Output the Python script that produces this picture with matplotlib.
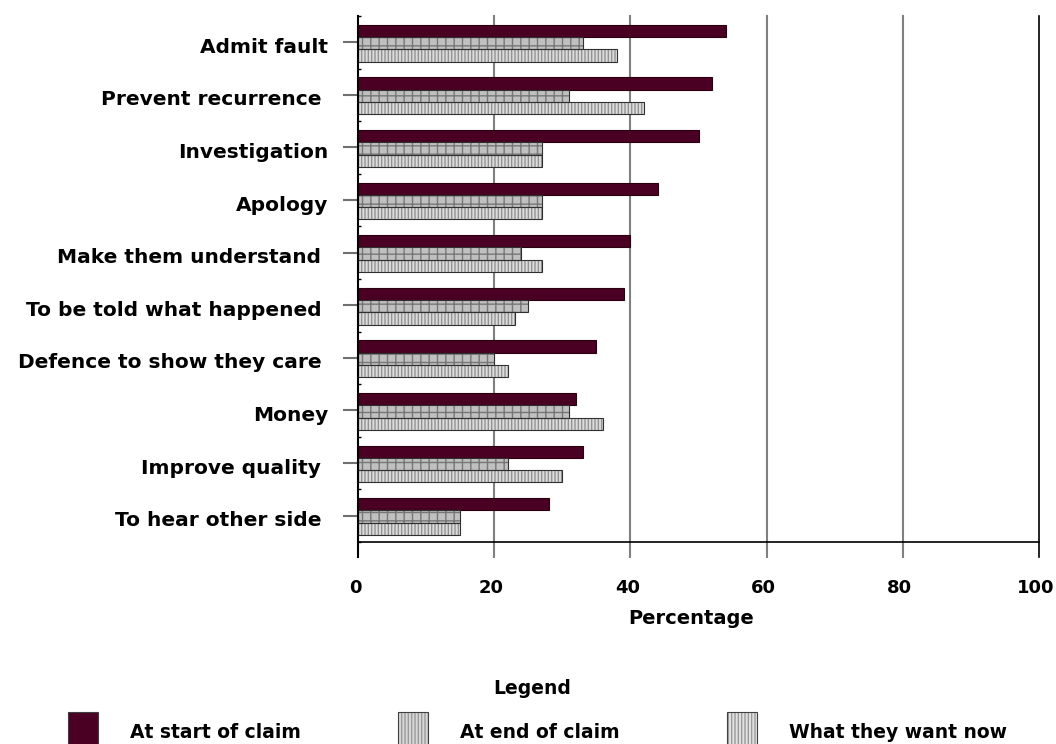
import matplotlib
matplotlib.use("Agg")
import matplotlib.pyplot as plt
import matplotlib.transforms as mtrans
import numpy as np
from matplotlib.patches import Rectangle

categories = ["Admit fault", "Prevent recurrence ", "Investigation", "Apology",
              "Make them understand ", "To be told what happened ",
              "Defence to show they care ", "Money", "Improve quality ",
              "To hear other side "]
start_claim = [54, 52, 50, 44, 40, 39, 35, 32, 33, 28]
end_claim = [33, 31, 27, 27, 24, 25, 20, 31, 22, 15]
want_now = [38, 42, 27, 27, 27, 23, 22, 36, 30, 15]
series_names = ["At start of claim", "At end of claim", "What they want now"]
x_ticks = [0, 20, 40, 60, 80, 100]

plt.rcParams['font.family'] = ['DejaVu Sans']
plt.rcParams['font.weight'] = 'bold'
FS = 13.5

W, H = 1056, 744
fig = plt.figure(figsize=(W / 100, H / 100), dpi=100)
ax = fig.add_axes([358 / W, 1 - 542 / H, (1039 - 358) / W, (542 - 16) / H])

dark = '#4a0022'
y = np.arange(len(categories))
h = 0.234
off = 0.017

plt.rcParams['hatch.linewidth'] = 1.0
# start of claim
ax.barh(y - h + off, start_claim, height=h, color=dark, edgecolor='#2a0010', linewidth=0.8, zorder=3)
# end of claim
ax.barh(y + off, end_claim, height=h, color='#c0c0c0', edgecolor='#777777', hatch='||--', linewidth=0, zorder=3)
ax.barh(y + off, end_claim, height=h, fill=False, edgecolor='#303030', linewidth=0.8, zorder=4)
# want now
ax.barh(y + h + off, want_now, height=h, color='#dcdcdc', edgecolor='#939393', hatch='|||||', linewidth=0, zorder=3)
ax.barh(y + h + off, want_now, height=h, fill=False, edgecolor='#303030', linewidth=0.8, zorder=4)

ax.set_xlim(0, 100)
ax.set_ylim(len(categories) - 0.5, -0.5)

# gridlines extending below the axis as ticks
for xv in x_ticks[1:-1]:
    ax.axvline(xv, ymin=-15 / 526, ymax=1, color='#808080', lw=1.5, clip_on=False, zorder=1)
ax.axvline(100, ymin=-15 / 526, ymax=1, color='#000000', lw=1.2, clip_on=False, zorder=1)
ax.axvline(0, ymin=-15 / 526, ymax=1, color='#000000', lw=1.5, clip_on=False, zorder=5)

for s in ['top', 'right', 'left']:
    ax.spines[s].set_visible(False)
ax.spines['bottom'].set_color('black')
ax.spines['bottom'].set_linewidth(1.2)

ax.set_xticks(x_ticks)
ax.set_xticklabels([str(v) for v in x_ticks], fontsize=13, fontweight='bold')
ax.tick_params(axis='x', length=0, pad=26.5)
shift_x = mtrans.ScaledTranslation(-3 / 100, 0, fig.dpi_scale_trans)
for lab in ax.get_xticklabels():
    lab.set_transform(lab.get_transform() + shift_x)

ax.set_yticks(y)
ax.set_yticklabels(categories, fontsize=14.5, fontweight='bold')
ax.tick_params(axis='y', which='major', length=10.5, width=1.5, color='#707070', pad=11)
ax.set_yticks(np.arange(len(categories) + 1) - 0.5, minor=True)
ax.tick_params(axis='y', which='minor', direction='in', length=2, width=1, color='black')
shift_y = mtrans.ScaledTranslation(0, -3 / 100, fig.dpi_scale_trans)
for lab in ax.get_yticklabels():
    lab.set_transform(lab.get_transform() + shift_y)

ax.set_xlabel("Percentage", fontsize=14, fontweight='bold')
ax.xaxis.set_label_coords((691 - 358) / (1039 - 358), -(619 - 542) / 526)
ax.xaxis.label.set_va('center')

# legend
fig.text(532 / W, 1 - 688 / H, "Legend", ha='center', va='center', fontsize=FS, fontweight='bold')
leg_x = [68, 398, 727]
styles = [dict(facecolor=dark, edgecolor='#2a0010', hatch=None),
          dict(facecolor='#d8d8d8', edgecolor='#9a9a9a', hatch='|||||'),
          dict(facecolor='#e2e2e2', edgecolor='#9a9a9a', hatch='|||||')]
for lx, name, st in zip(leg_x, series_names, styles):
    r = Rectangle((lx / W, 1 - 746 / H), 30 / W, 34 / H, transform=fig.transFigure,
                  facecolor=st['facecolor'], edgecolor=st['edgecolor'], hatch=st['hatch'], linewidth=0)
    fig.add_artist(r)
    r2 = Rectangle((lx / W, 1 - 746 / H), 30 / W, 34 / H, transform=fig.transFigure,
                   fill=False, edgecolor='#404040', linewidth=0.8)
    fig.add_artist(r2)
    fig.text((lx + 62) / W, 1 - 733 / H, name, ha='left', va='center', fontsize=FS, fontweight='bold')

fig.savefig("out.png", dpi=100)
